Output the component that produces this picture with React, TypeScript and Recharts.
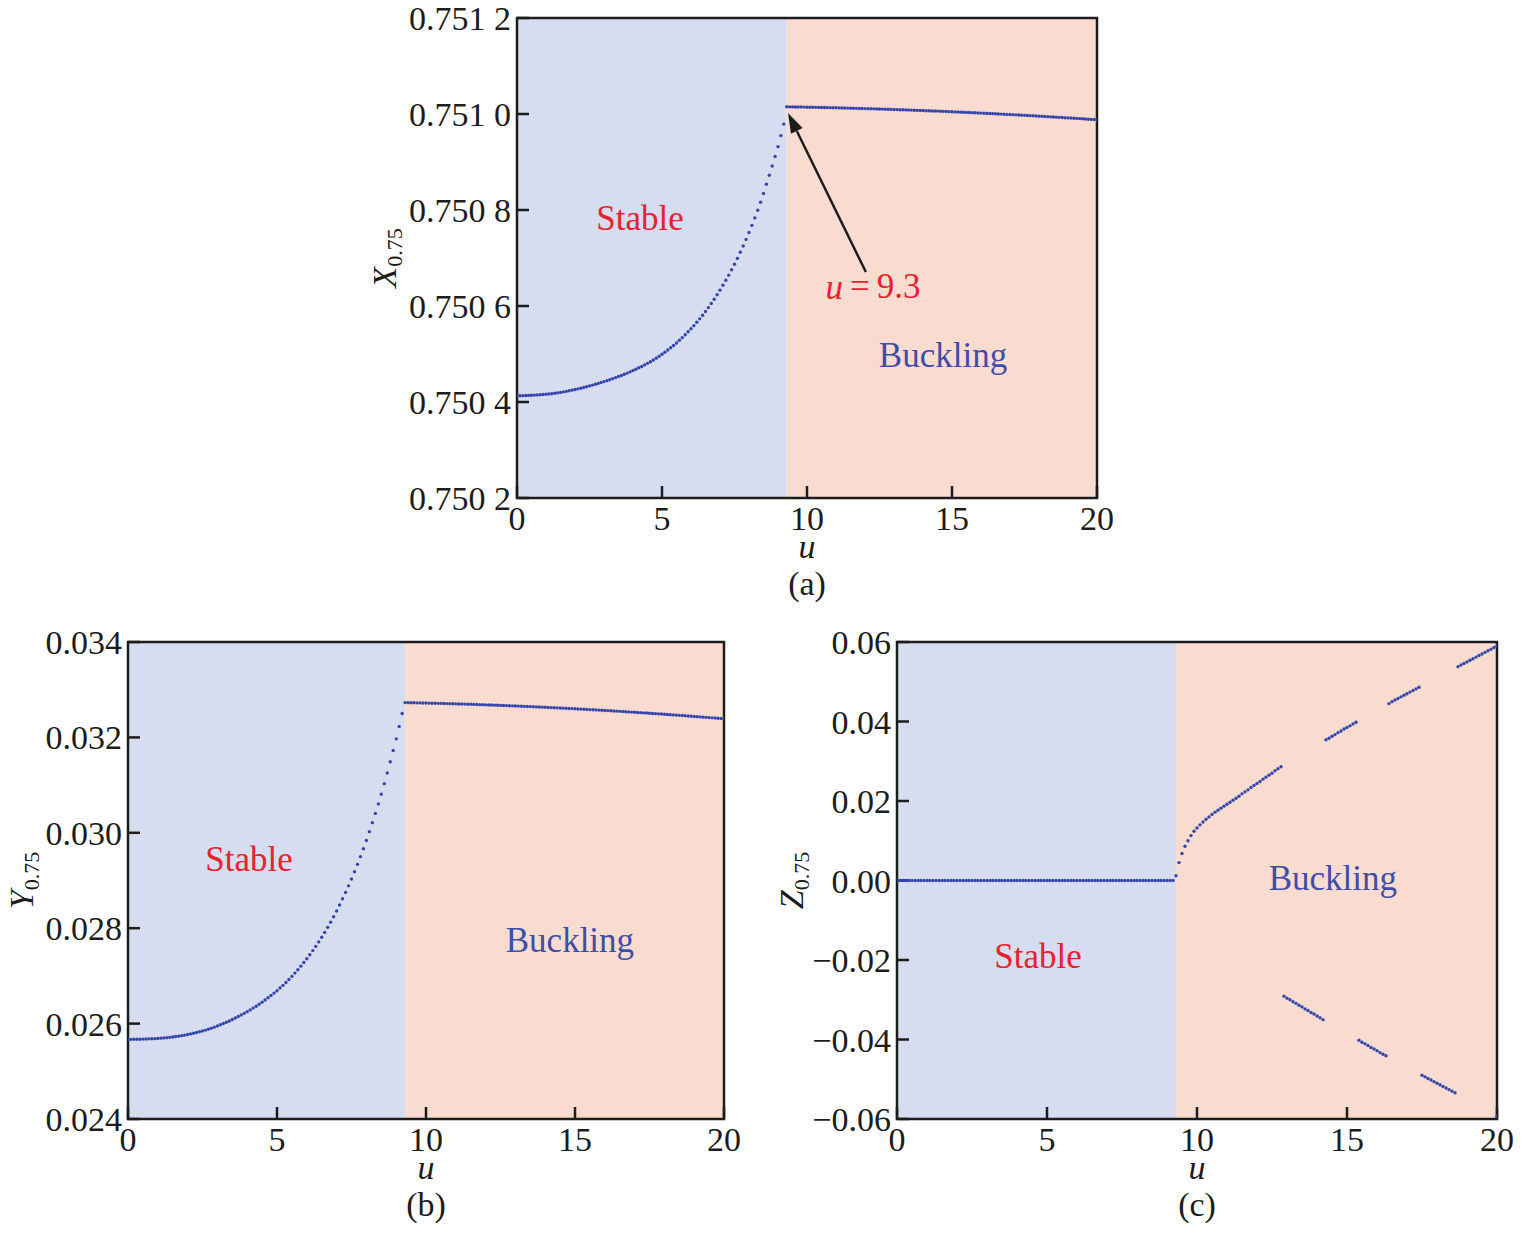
import React from 'react'
import {
  ScatterChart,
  Scatter,
  XAxis,
  YAxis,
  ReferenceArea,
  ReferenceDot,
  ReferenceLine
} from 'recharts'

const SERIF = '"Liberation Serif", "Times New Roman", serif'
const INK = '#1c1c1c'
const DOT = '#3446ab'
const STABLE_BG = '#d6ddf0'
const BUCKLING_BG = '#f9dccf'
const RED = '#e8212f'
const BLUE_TEXT = '#3e4ea8'

// sampling of u in every panel
const U_STEP = 0.1
const U_CRITICAL = 9.3
const uTicks = [0, 5, 10, 15, 20]

// (a) X_0.75
const aTicks = [0.7502, 0.7504, 0.7506, 0.7508, 0.751, 0.7512]
const aTickLabels = ['0.750 2', '0.750 4', '0.750 6', '0.750 8', '0.751 0', '0.751 2']
// u = 0.0 .. 9.2
const aStable = [
  0.7504130, 0.7504130, 0.7504132, 0.7504134, 0.7504137, 0.7504140, 0.7504144, 0.7504148, 0.7504152, 0.7504156,
  0.7504160, 0.7504166, 0.7504173, 0.7504181, 0.7504190, 0.7504200, 0.7504211, 0.7504222, 0.7504234, 0.7504247,
  0.7504260, 0.7504274, 0.7504288, 0.7504303, 0.7504319, 0.7504335, 0.7504352, 0.7504369, 0.7504387, 0.7504406,
  0.7504425, 0.7504445, 0.7504465, 0.7504486, 0.7504508, 0.7504530, 0.7504553, 0.7504577, 0.7504602, 0.7504628,
  0.7504655, 0.7504683, 0.7504712, 0.7504741, 0.7504773, 0.7504805, 0.7504840, 0.7504876, 0.7504914, 0.7504954,
  0.7504995, 0.7505038, 0.7505083, 0.7505129, 0.7505178, 0.7505230, 0.7505285, 0.7505342, 0.7505401, 0.7505462,
  0.7505525, 0.7505591, 0.7505660, 0.7505732, 0.7505807, 0.7505885, 0.7505967, 0.7506052, 0.7506140, 0.7506233,
  0.7506330, 0.7506431, 0.7506535, 0.7506643, 0.7506755, 0.7506870, 0.7506992, 0.7507119, 0.7507250, 0.7507387,
  0.7507530, 0.7507680, 0.7507835, 0.7507996, 0.7508164, 0.7508345, 0.7508535, 0.7508725, 0.7508918, 0.7509116,
  0.7509320, 0.7509550, 0.7509790
]
// u = 9.3 .. 20.0
const aBuckling = [
  0.7510150, 0.7510149, 0.7510148, 0.7510147, 0.7510146, 0.7510145, 0.7510144, 0.7510142, 0.7510141, 0.7510140,
  0.7510139, 0.7510137, 0.7510136, 0.7510135, 0.7510133, 0.7510132, 0.7510130, 0.7510129, 0.7510127, 0.7510126,
  0.7510124, 0.7510123, 0.7510121, 0.7510119, 0.7510118, 0.7510116, 0.7510114, 0.7510112, 0.7510111, 0.7510109,
  0.7510107, 0.7510105, 0.7510103, 0.7510102, 0.7510100, 0.7510098, 0.7510096, 0.7510094, 0.7510092, 0.7510089,
  0.7510087, 0.7510085, 0.7510083, 0.7510081, 0.7510078, 0.7510076, 0.7510074, 0.7510072, 0.7510069, 0.7510067,
  0.7510064, 0.7510062, 0.7510060, 0.7510057, 0.7510055, 0.7510052, 0.7510049, 0.7510047, 0.7510044, 0.7510042,
  0.7510039, 0.7510036, 0.7510033, 0.7510031, 0.7510028, 0.7510025, 0.7510022, 0.7510019, 0.7510016, 0.7510013,
  0.7510010, 0.7510007, 0.7510004, 0.7510001, 0.7509998, 0.7509995, 0.7509992, 0.7509989, 0.7509986, 0.7509982,
  0.7509979, 0.7509976, 0.7509972, 0.7509969, 0.7509966, 0.7509962, 0.7509959, 0.7509955, 0.7509952, 0.7509948,
  0.7509945, 0.7509941, 0.7509938, 0.7509934, 0.7509930, 0.7509927, 0.7509923, 0.7509919, 0.7509916, 0.7509912,
  0.7509908, 0.7509904, 0.7509900, 0.7509896, 0.7509892, 0.7509888, 0.7509884, 0.7509880
]

// (b) Y_0.75
const bTicks = [0.024, 0.026, 0.028, 0.03, 0.032, 0.034]
const bTickLabels = ['0.024', '0.026', '0.028', '0.030', '0.032', '0.034']
const bStable = [
  0.025670, 0.025670, 0.025671, 0.025672, 0.025673, 0.025675, 0.025677, 0.025680, 0.025683, 0.025686,
  0.025690, 0.025695, 0.025700, 0.025705, 0.025712, 0.025720, 0.025728, 0.025737, 0.025747, 0.025758,
  0.025770, 0.025784, 0.025798, 0.025813, 0.025829, 0.025845, 0.025864, 0.025884, 0.025905, 0.025927,
  0.025950, 0.025975, 0.026001, 0.026027, 0.026056, 0.026085, 0.026116, 0.026148, 0.026181, 0.026215,
  0.026250, 0.026287, 0.026325, 0.026365, 0.026407, 0.026450, 0.026495, 0.026541, 0.026589, 0.026639,
  0.026690, 0.026745, 0.026802, 0.026861, 0.026924, 0.026990, 0.027059, 0.027130, 0.027204, 0.027281,
  0.027360, 0.027444, 0.027530, 0.027620, 0.027713, 0.027810, 0.027912, 0.028018, 0.028127, 0.028241,
  0.028360, 0.028486, 0.028616, 0.028750, 0.028888, 0.029030, 0.029183, 0.029339, 0.029500, 0.029667,
  0.029840, 0.030024, 0.030213, 0.030407, 0.030606, 0.030810, 0.031030, 0.031256, 0.031488, 0.031726,
  0.031970, 0.032230, 0.032500
]
const bBuckling = [
  0.0327300, 0.0327287, 0.0327274, 0.0327261, 0.0327247, 0.0327233, 0.0327218, 0.0327203, 0.0327188, 0.0327172,
  0.0327156, 0.0327140, 0.0327123, 0.0327106, 0.0327089, 0.0327071, 0.0327053, 0.0327034, 0.0327015, 0.0326996,
  0.0326976, 0.0326956, 0.0326935, 0.0326914, 0.0326893, 0.0326871, 0.0326849, 0.0326827, 0.0326805, 0.0326783,
  0.0326761, 0.0326737, 0.0326713, 0.0326689, 0.0326664, 0.0326639, 0.0326614, 0.0326589, 0.0326563, 0.0326537,
  0.0326510, 0.0326482, 0.0326454, 0.0326426, 0.0326398, 0.0326369, 0.0326340, 0.0326311, 0.0326282, 0.0326252,
  0.0326222, 0.0326191, 0.0326160, 0.0326129, 0.0326097, 0.0326065, 0.0326033, 0.0326000, 0.0325967, 0.0325934,
  0.0325900, 0.0325866, 0.0325831, 0.0325796, 0.0325761, 0.0325726, 0.0325690, 0.0325654, 0.0325617, 0.0325579,
  0.0325541, 0.0325503, 0.0325465, 0.0325426, 0.0325387, 0.0325348, 0.0325308, 0.0325268, 0.0325228, 0.0325187,
  0.0325146, 0.0325104, 0.0325062, 0.0325020, 0.0324977, 0.0324934, 0.0324891, 0.0324848, 0.0324804, 0.0324760,
  0.0324716, 0.0324671, 0.0324626, 0.0324580, 0.0324534, 0.0324488, 0.0324442, 0.0324395, 0.0324348, 0.0324299,
  0.0324250, 0.0324201, 0.0324152, 0.0324102, 0.0324052, 0.0324002, 0.0323952, 0.0323902
]

// (c) Z_0.75
const cTicks = [-0.06, -0.04, -0.02, 0, 0.02, 0.04, 0.06]
const cTickLabels = ['\u22120.06', '\u22120.04', '\u22120.02', '0.00', '0.02', '0.04', '0.06']
const cStable = [
  0, 0, 0, 0, 0, 0, 0, 0, 0, 0, 0, 0, 0, 0, 0, 0, 0, 0, 0, 0, 0, 0, 0, 0, 0, 0, 0, 0, 0, 0, 0,
  0, 0, 0, 0, 0, 0, 0, 0, 0, 0, 0, 0, 0, 0, 0, 0, 0, 0, 0, 0, 0, 0, 0, 0, 0, 0, 0, 0, 0, 0, 0,
  0, 0, 0, 0, 0, 0, 0, 0, 0, 0, 0, 0, 0, 0, 0, 0, 0, 0, 0, 0, 0, 0, 0, 0, 0, 0, 0, 0, 0, 0, 0
]
// [u, Z] pairs of the buckled branches
const cUpper: [number, number][] = [
  [9.3, 0.0012], [9.4, 0.0045], [9.5, 0.0068], [9.6, 0.0086], [9.7, 0.0100], [9.8, 0.0113], [9.9, 0.0124],
  [10.0, 0.0132], [10.1, 0.0140], [10.2, 0.0147], [10.3, 0.0154], [10.4, 0.0160], [10.5, 0.0166], [10.6, 0.0172],
  [10.7, 0.0177], [10.8, 0.0182], [10.9, 0.0187], [11.0, 0.0192], [11.1, 0.0197], [11.2, 0.0202], [11.3, 0.0207],
  [11.4, 0.0212], [11.5, 0.0218], [11.6, 0.0223], [11.7, 0.0228], [11.8, 0.0234], [11.9, 0.0239], [12.0, 0.0244],
  [12.1, 0.0249], [12.2, 0.0255], [12.3, 0.0260], [12.4, 0.0265], [12.5, 0.0270], [12.6, 0.0276], [12.7, 0.0281],
  [12.8, 0.0286],
  [14.3, 0.0354], [14.4, 0.0358], [14.5, 0.0363], [14.6, 0.0367], [14.7, 0.0372], [14.8, 0.0376], [14.9, 0.0381],
  [15.0, 0.0385], [15.1, 0.0389], [15.2, 0.0394], [15.3, 0.0398],
  [16.4, 0.0445], [16.5, 0.0450], [16.6, 0.0454], [16.7, 0.0458], [16.8, 0.0462], [16.9, 0.0466], [17.0, 0.0470],
  [17.1, 0.0474], [17.2, 0.0478], [17.3, 0.0482], [17.4, 0.0486],
  [18.7, 0.0538], [18.8, 0.0542], [18.9, 0.0546], [19.0, 0.0550], [19.1, 0.0554], [19.2, 0.0558], [19.3, 0.0562],
  [19.4, 0.0566], [19.5, 0.0570], [19.6, 0.0574], [19.7, 0.0578], [19.8, 0.0582], [19.9, 0.0586], [20.0, 0.0590]
]
const cLower: [number, number][] = [
  [12.9, -0.0291], [13.0, -0.0296], [13.1, -0.0300], [13.2, -0.0305], [13.3, -0.0309], [13.4, -0.0314],
  [13.5, -0.0318], [13.6, -0.0323], [13.7, -0.0327], [13.8, -0.0332], [13.9, -0.0336], [14.0, -0.0341],
  [14.1, -0.0345], [14.2, -0.0350],
  [15.4, -0.0402], [15.5, -0.0407], [15.6, -0.0411], [15.7, -0.0415], [15.8, -0.0420], [15.9, -0.0424],
  [16.0, -0.0428], [16.1, -0.0433], [16.2, -0.0437], [16.3, -0.0441],
  [17.5, -0.0490], [17.6, -0.0494], [17.7, -0.0498], [17.8, -0.0502], [17.9, -0.0506], [18.0, -0.0510],
  [18.1, -0.0514], [18.2, -0.0518], [18.3, -0.0522], [18.4, -0.0526], [18.5, -0.0530], [18.6, -0.0534],
  [20.0, -0.0593]
]

type Pt = { u: number; v: number }

const onGrid = (start: number, values: number[]): Pt[] =>
  values.map((v, i) => ({ u: Math.round((start + i * U_STEP) * 10) / 10, v }))

const fromPairs = (list: [number, number][]): Pt[] => list.map(([u, v]) => ({ u, v }))

type Note = { u: number; v: number; text: React.ReactNode; color: string }

type PanelSpec = {
  tag: string
  letter: string
  box: { left: number; top: number; width: number; height: number }
  margin: { top: number; right: number; bottom: number; left: number }
  yAxisWidth: number
  yLabelGap: number
  yDomain: [number, number]
  yTicks: number[]
  yTickLabels: string[]
  series: Pt[][]
  notes: Note[]
  arrow?: [Pt, Pt]
}

const dotShape = (p: any) => <circle cx={p.cx} cy={p.cy} r={1.7} fill={DOT} />

const ArrowShape = (p: any) => {
  const { x1, y1, x2, y2 } = p
  const ang = Math.atan2(y2 - y1, x2 - x1)
  const len = 20
  const half = 6.5
  const bx = x2 - len * Math.cos(ang)
  const by = y2 - len * Math.sin(ang)
  const nx = -Math.sin(ang) * half
  const ny = Math.cos(ang) * half
  return (
    <g>
      <line x1={x1} y1={y1} x2={bx} y2={by} stroke={INK} strokeWidth={2.5} />
      <polygon points={`${x2},${y2} ${bx + nx},${by + ny} ${bx - nx},${by - ny}`} fill={INK} />
    </g>
  )
}

const Panel = ({ spec }: { spec: PanelSpec }) => {
  const { box, margin, yDomain } = spec

  const yLabel = (props: any) => {
    const vb = props.viewBox
    const cx = vb.x + vb.width - spec.yLabelGap
    const cy = vb.y + vb.height / 2
    return (
      <text
        x={cx}
        y={cy}
        transform={`rotate(-90 ${cx} ${cy})`}
        textAnchor="middle"
        fontFamily={SERIF}
        fontSize={34}
        fill={INK}
      >
        <tspan fontStyle="italic">{spec.letter}</tspan>
        <tspan fontSize={22} dy={6}>0.75</tspan>
      </text>
    )
  }

  const xLabel = (props: any) => {
    const vb = props.viewBox
    const cx = vb.x + vb.width / 2
    return (
      <g fontFamily={SERIF} fontSize={34} fill={INK}>
        <text x={cx} y={vb.y + 60} textAnchor="middle" fontStyle="italic">u</text>
        <text x={cx} y={vb.y + 97} textAnchor="middle">({spec.tag})</text>
      </g>
    )
  }

  const yFormat = (v: number) => {
    const i = spec.yTicks.findIndex(t => Math.abs(t - v) < 1e-9)
    return i >= 0 ? spec.yTickLabels[i] : String(v)
  }

  return (
    <div style={{ position: 'absolute', left: box.left, top: box.top }}>
      <ScatterChart width={box.width} height={box.height} margin={margin}>
        <ReferenceArea x1={0} x2={U_CRITICAL} y1={yDomain[0]} y2={yDomain[1]} fill={STABLE_BG} fillOpacity={1} stroke="none" />
        <ReferenceArea x1={U_CRITICAL} x2={20} y1={yDomain[0]} y2={yDomain[1]} fill={BUCKLING_BG} fillOpacity={1} stroke="none" />
        <XAxis
          type="number"
          dataKey="u"
          domain={[0, 20]}
          ticks={uTicks}
          interval={0}
          allowDataOverflow
          height={60}
          axisLine={false}
          tickSize={-12}
          tickMargin={20}
          tickLine={{ stroke: INK, strokeWidth: 2.5 }}
          tick={{ fontFamily: SERIF, fontSize: 34, fill: INK }}
          label={xLabel}
        />
        <YAxis
          type="number"
          dataKey="v"
          domain={yDomain}
          ticks={spec.yTicks}
          interval={0}
          allowDataOverflow
          width={spec.yAxisWidth}
          axisLine={false}
          tickSize={-12}
          tickMargin={18}
          tickLine={{ stroke: INK, strokeWidth: 2.5 }}
          tick={{ fontFamily: SERIF, fontSize: 34, fill: INK }}
          tickFormatter={yFormat}
          label={yLabel}
        />
        {spec.series.map((data, i) => (
          <Scatter key={i} data={data} shape={dotShape} isAnimationActive={false} />
        ))}
        {spec.notes.map((n, i) => (
          <ReferenceDot
            key={`n${i}`}
            x={n.u}
            y={n.v}
            r={0}
            fill="none"
            stroke="none"
            label={(lp: any) => {
              const vb = lp.viewBox
              return (
                <text
                  x={vb.x + (vb.width || 0) / 2}
                  y={vb.y + (vb.height || 0) / 2}
                  textAnchor="middle"
                  dominantBaseline="central"
                  fontFamily={SERIF}
                  fontSize={35}
                  fill={n.color}
                >
                  {n.text}
                </text>
              )
            }}
          />
        ))}
        {spec.arrow && (
          <ReferenceLine
            segment={[{ x: spec.arrow[0].u, y: spec.arrow[0].v }, { x: spec.arrow[1].u, y: spec.arrow[1].v }]}
            shape={ArrowShape}
          />
        )}
        <ReferenceArea x1={0} x2={20} y1={yDomain[0]} y2={yDomain[1]} fill="none" stroke={INK} strokeWidth={2.5} />
      </ScatterChart>
    </div>
  )
}

const panels: PanelSpec[] = [
  {
    tag: 'a',
    letter: 'X',
    box: { left: 300, top: 0, width: 830, height: 610 },
    margin: { top: 18, right: 33, bottom: 52, left: 77 },
    yAxisWidth: 140,
    yLabelGap: 121,
    yDomain: [0.7502, 0.7512],
    yTicks: aTicks,
    yTickLabels: aTickLabels,
    series: [onGrid(0, aStable), onGrid(U_CRITICAL, aBuckling)],
    notes: [
      { u: 4.24, v: 0.7507833, text: 'Stable', color: RED },
      { u: 14.69, v: 0.750496, text: 'Buckling', color: BLUE_TEXT },
      {
        u: 12.28,
        v: 0.7506396,
        text: (
          <>
            <tspan fontStyle="italic">u</tspan>
            {'\u2009=\u20099.3'}
          </>
        ),
        color: RED
      }
    ],
    arrow: [{ u: 12.03, v: 0.7506708 }, { u: 9.345, v: 0.7510021 }]
  },
  {
    tag: 'b',
    letter: 'Y',
    box: { left: 0, top: 600, width: 780, height: 638 },
    margin: { top: 42, right: 56, bottom: 59, left: 18 },
    yAxisWidth: 110,
    yLabelGap: 95,
    yDomain: [0.024, 0.034],
    yTicks: bTicks,
    yTickLabels: bTickLabels,
    series: [onGrid(0, bStable), onGrid(U_CRITICAL, bBuckling)],
    notes: [
      { u: 4.06, v: 0.02943, text: 'Stable', color: RED },
      { u: 14.83, v: 0.027732, text: 'Buckling', color: BLUE_TEXT }
    ]
  },
  {
    tag: 'c',
    letter: 'Z',
    box: { left: 770, top: 600, width: 756, height: 638 },
    margin: { top: 42, right: 29, bottom: 59, left: 17 },
    yAxisWidth: 110,
    yLabelGap: 94,
    yDomain: [-0.06, 0.06],
    yTicks: cTicks,
    yTickLabels: cTickLabels,
    series: [onGrid(0, cStable), fromPairs(cUpper), fromPairs(cLower)],
    notes: [
      { u: 4.7, v: -0.019, text: 'Stable', color: RED },
      { u: 14.53, v: 0.0004, text: 'Buckling', color: BLUE_TEXT }
    ]
  }
]

export default function App() {
  return (
    <div style={{ position: 'absolute', left: 0, top: 0, width: 1526, height: 1238, background: '#fff' }}>
      {panels.map(p => (
        <Panel key={p.tag} spec={p} />
      ))}
    </div>
  )
}
